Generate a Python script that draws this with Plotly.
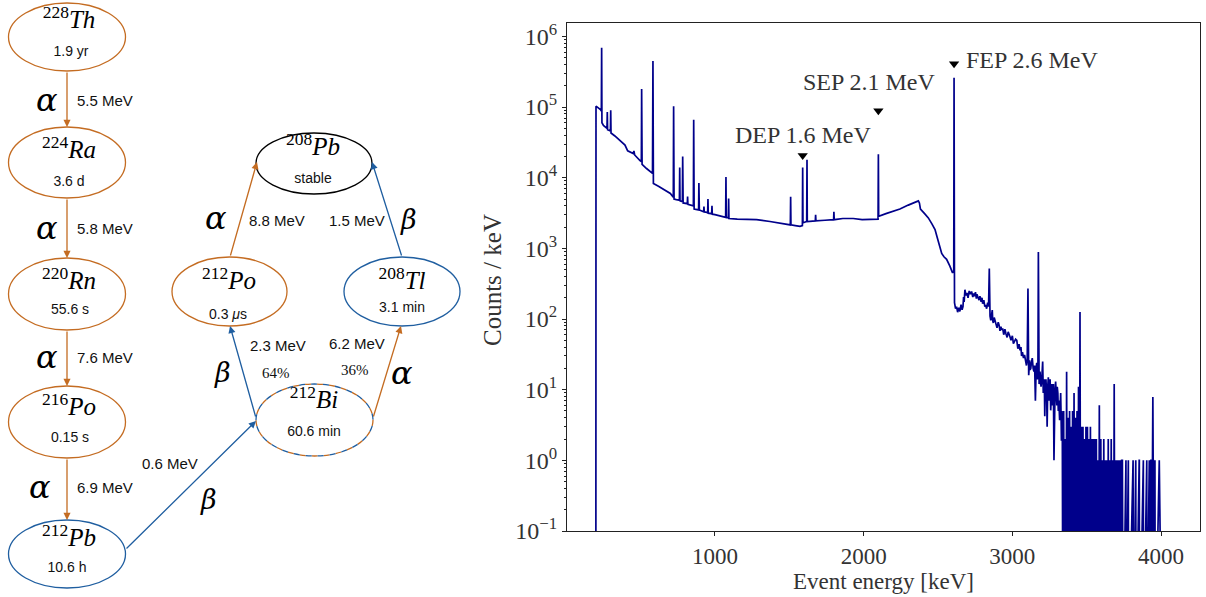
import math
import plotly.graph_objects as go

# ---------------- decay chain data ----------------
nuclide_mass = ["228", "224", "220", "216", "212", "208", "212", "208", "212"]
nuclide_symbol = ["Th", "Ra", "Rn", "Po", "Pb", "Pb", "Po", "Tl", "Bi"]
half_life = ["1.9 yr", "3.6 d", "55.6 s", "0.15 s", "10.6 h", "stable",
             "0.3 <i>μ</i>s", "3.1 min", "60.6 min"]
nuclide_kind = ["alpha", "alpha", "alpha", "alpha", "beta", "stable", "alpha", "beta", "both"]

decay_from = [0, 1, 2, 3, 4, 8, 8, 6, 7]
decay_to = [1, 2, 3, 4, 8, 6, 7, 5, 5]
decay_mode = ["α", "α", "α", "α", "β", "β", "α", "α", "β"]
decay_energy = ["5.5 MeV", "5.8 MeV", "7.6 MeV", "6.9 MeV", "0.6 MeV",
                "2.3 MeV", "6.2 MeV", "8.8 MeV", "1.5 MeV"]
decay_branch = ["", "", "", "", "", "64%", "36%", "", ""]

# ---------------- spectrum data (counts / keV) ----------------
energy_main = [180, 199, 200, 215, 230, 236, 238, 240, 250, 265, 274, 276, 278, 297, 299, 301,
               327, 360, 395, 413, 450, 455, 460, 496, 505, 507, 510, 540, 574, 580, 583, 586,
               620, 664, 700, 713, 720, 722, 725, 740, 761, 763, 765, 781, 783, 786, 814, 816,
               818, 855, 857, 860, 890, 892, 895, 924, 926, 928, 951, 953, 955, 978, 980, 982,
               1000, 1034, 1072, 1074, 1076, 1090, 1092, 1094, 1150, 1200, 1280, 1370, 1430,
               1482, 1507, 1509, 1511, 1540, 1572, 1588, 1590, 1592, 1617, 1619, 1621, 1675,
               1677, 1679, 1740, 1798, 1800, 1802, 1860, 1930, 1990, 2050, 2097, 2099, 2101,
               2150, 2200, 2244, 2300, 2340, 2368, 2375, 2382, 2410, 2435, 2460, 2480, 2500,
               2525, 2540, 2558, 2580, 2598, 2606, 2608, 2611, 2618, 2625, 2632, 2640, 2647,
               2655, 2662, 2668, 2672, 2676, 2681, 2688, 2695, 2702, 2710, 2718, 2726, 2734,
               2740, 2745, 2752, 2758, 2762, 2770, 2776, 2782, 2790, 2796, 2800, 2808, 2815,
               2821, 2827, 2834, 2840, 2845, 2847, 2850, 2855, 2861, 2865, 2868, 2872, 2878,
               2884, 2890, 2897, 2905, 2911, 2917, 2923, 2929, 2935, 2942, 2950, 2957, 2965,
               2972, 2978, 2984, 2991, 3000, 3007, 3015, 3022, 3030, 3037, 3045, 3052, 3058,
               3062, 3068, 3075, 3082, 3090, 3095, 3100, 3105, 3110, 3114, 3116, 3119, 3124,
               3128, 3134, 3140, 3145, 3150, 3155, 3160, 3164, 3168, 3172, 3175, 3180, 3186,
               3190, 3193, 3197, 3200, 3204, 3208, 3211, 3215, 3218, 3222, 3226, 3231, 3234,
               3238, 3242, 3246, 3250, 3254, 3258, 3262, 3265, 3269, 3272, 3276, 3280, 3284,
               3287, 3291, 3295, 3299, 3302, 3306, 3309, 3313, 3318, 3322, 3325, 3328, 3330,
               3333, 3336, 3340]
counts_main = [0, 0, 1.03e5, 9.8e4, 9.2e4, 8.8e4, 6.9e5, 6.0e4, 5.5e4, 5.2e4, 5.0e4, 8.5e4,
               4.8e4, 4.6e4, 9.0e4, 4.3e4, 3.9e4, 3.4e4, 2.9e4, 2.4e4, 2.2e4, 2.4e4, 2.1e4,
               1.75e4, 1.7e4, 1.8e5, 1.55e4, 1.35e4, 1.2e4, 1.15e4, 4.5e5, 8.3e3, 7.6e3,
               6.6e3, 6.0e3, 5.5e3, 5.3e3, 1.03e5, 5.0e3, 4.9e3, 4.8e3, 1.4e4, 4.7e3, 4.6e3,
               2.0e4, 4.4e3, 4.3e3, 5.4e3, 4.2e3, 4.0e3, 6.6e4, 3.6e3, 3.5e3, 8.4e3, 3.5e3,
               3.3e3, 3.9e3, 3.3e3, 3.2e3, 5.0e3, 3.15e3, 3.1e3, 4.0e3, 3.05e3, 3.0e3, 2.85e3,
               2.75e3, 1.02e4, 2.75e3, 2.7e3, 5.1e3, 2.65e3, 2.6e3, 2.6e3, 2.55e3, 2.4e3,
               2.3e3, 2.2e3, 2.15e3, 5.4e3, 2.15e3, 2.1e3, 2.05e3, 2.1e3, 1.4e4, 2.3e3, 2.4e3,
               1.8e4, 2.4e3, 2.45e3, 3.0e3, 2.45e3, 2.5e3, 2.55e3, 3.3e3, 2.55e3, 2.65e3,
               2.65e3, 2.55e3, 2.55e3, 2.6e3, 2.15e4, 2.85e3, 3.1e3, 3.35e3, 3.6e3, 4.1e3,
               4.4e3, 4.7e3, 4.4e3, 3.6e3, 3.1e3, 2.7e3, 2.2e3, 1.85e3, 1.3e3, 850, 760, 700,
               560, 450, 480, 2.6e5, 170, 140, 150, 125, 145, 128, 160, 135, 150, 205, 175,
               260, 215, 235, 200, 250, 225, 245, 205, 230, 210, 240, 195, 225, 200, 185, 210,
               175, 200, 165, 185, 150, 158, 140, 170, 150, 520, 130, 110, 96, 115, 134, 95,
               88, 105, 92, 80, 75, 90, 82, 68, 78, 70, 74, 60, 72, 62, 55, 66, 58, 56, 50, 58,
               45, 48, 52, 50, 38, 44, 36, 40, 30, 34, 28, 31, 24, 22, 26, 270, 16, 22, 26, 19,
               20, 24, 28, 20, 18, 22, 7, 20, 24, 14, 17, 890, 12, 18, 15, 11, 13, 19, 25, 9,
               10, 14, 4.2, 12, 14, 8, 3.0, 11, 15, 7, 11, 14, 5.1, 9, 12, 6, 8, 12, 1.0, 7, 10,
               13, 8, 6, 11, 9, 5, 7, 3.7, 6, 9, 4, 1.9, 5]

energy_dense = [3345, 3350, 3355, 3360, 3365, 3370, 3375, 3380, 3385, 3390, 3395, 3400,
                3405, 3410, 3415, 3420, 3425, 3430, 3435, 3440, 3445, 3450, 3455, 3460,
                3465, 3470, 3475, 3480, 3485, 3490, 3495, 3500, 3505, 3510, 3515, 3520,
                3525, 3530, 3535, 3540, 3545, 3550, 3555, 3560, 3565, 3570, 3575, 3580,
                3585, 3590, 3595, 3600, 3605, 3610, 3615, 3620, 3625, 3630, 3635, 3640,
                3645, 3650, 3655, 3660, 3665, 3670, 3675, 3680, 3685, 3690, 3695, 3700,
                3705, 3710, 3715, 3720, 3725, 3730, 3735, 3740]
counts_dense = [3, 0, 5, 0, 2, 0, 18, 0, 4, 0, 5, 0, 3, 0, 5, 0, 9, 0, 4, 0, 5, 0, 11, 0,
                126, 0, 3, 0, 3, 0, 2, 0, 3, 0, 3, 0, 2, 0, 3, 0, 2, 0, 2, 0, 2, 0, 2, 0,
                1, 0, 6, 0, 2, 0, 1, 0, 2, 0, 1, 0, 1, 0, 2, 0, 1, 0, 2, 0, 1, 0, 12, 0,
                1, 0, 1, 0, 1, 0, 1, 0]

energy_tail = [3745, 3763, 3764, 3765, 3779, 3780, 3781, 3812, 3813, 3814, 3830, 3831, 3832,
               3853, 3854, 3855, 3880, 3881, 3882, 3903, 3904, 3905, 3920, 3921, 3922, 3932,
               3933, 3934, 3943, 3944, 3945, 3947, 3948, 3949, 3952, 3953, 3954, 3959, 3960,
               3961, 3988, 3989, 3990, 4005, 4006, 4075]
counts_tail = [1, 1, 0, 1, 1, 0, 1, 1, 0, 1, 1, 0, 1, 1, 0, 1, 1, 0, 1, 1, 0, 1, 1, 0, 1, 1,
               0, 1, 1, 0, 1, 1, 7.9, 1, 1, 0, 1, 1, 0, 1, 1, 0, 1, 1, 0, 0]

marker_energy = [1590, 2099, 2608]
marker_counts = [2.07e4, 8.9e4, 4.1e5]
marker_label = ["DEP 1.6 MeV", "SEP 2.1 MeV", "FEP 2.6 MeV"]

x_tick_vals = [1000, 2000, 3000, 4000]
y_tick_vals = [0.1, 1, 10, 100, 1000, 1e4, 1e5, 1e6]
y_tick_text = ["10<sup>−1</sup>", "10<sup>0</sup>", "10<sup>1</sup>", "10<sup>2</sup>",
               "10<sup>3</sup>", "10<sup>4</sup>", "10<sup>5</sup>", "10<sup>6</sup>"]

# ---------------- styling / layout (diagram in pixel units) ----------------
ORANGE = "#c46c22"
BLUE = "#1f5ea0"
NAVY = "#00008b"
SERIF = "Liberation Serif"
SANS = "Liberation Sans"

node_geom = [  # cx, cy, rx, ry
    (67, 37, 58.5, 34), (67, 162.5, 58.5, 35.5), (67, 294, 58.5, 36), (67, 422, 58.5, 36),
    (67, 554, 58.5, 34), (314, 163.5, 58, 30.5), (229.5, 291.5, 57.5, 34.5),
    (402, 291.5, 58, 34.5), (314.5, 420, 58.5, 36)]
label_pos = [(69, 22), (69, 152), (69, 283), (69, 409), (69, 540), (313, 149), (229, 283),
             (402, 283), (314, 402)]
hl_pos = [(71, 52), (69, 182), (70, 310), (70, 438), (67, 568), (313, 179), (228, 315),
          (402, 308), (314, 432)]
arrow_geom = [  # tail x, tail y, head x, head y
    (67, 71, 67, 127), (67, 198, 67, 258), (67, 330, 67, 386), (67, 458, 67, 520),
    (125, 550, 256, 421), (256, 418, 230, 326), (373, 418, 401, 326),
    (230, 257, 257, 162), (402, 257, 372, 162)]
mode_pos = [(47, 100), (47, 228), (47, 357), (40, 487), (208, 499), (222, 372), (402, 373),
            (216, 218), (408, 219)]
energy_pos = [(105, 100), (105, 228), (105, 357), (105, 487), (170, 463), (278, 345),
              (357, 343), (277, 220), (357, 220)]
branch_pos = [None, None, None, None, None, (276, 373), (355, 370), None, None]

fig = go.Figure()

# spectrum
energy = energy_main + energy_dense + energy_tail
counts = counts_main + counts_dense + counts_tail
counts_plot = [c if c > 0 else 1e-3 for c in counts]  # clip non-positive like a log plot
fig.add_trace(go.Scatter(x=energy, y=counts_plot, mode="lines",
                         line=dict(color=NAVY, width=1.7), showlegend=False,
                         hoverinfo="skip", xaxis="x", yaxis="y"))
fig.add_trace(go.Scatter(x=marker_energy, y=marker_counts, mode="markers",
                         marker=dict(symbol="triangle-down", size=9, color="black"),
                         showlegend=False, hoverinfo="skip", xaxis="x", yaxis="y"))

# diagram node labels
fig.add_trace(go.Scatter(
    x=[p[0] for p in label_pos], y=[p[1] for p in label_pos], mode="text",
    text=[f"<sup>{m}</sup><i>{s}</i>" for m, s in zip(nuclide_mass, nuclide_symbol)],
    textfont=dict(family=SERIF, size=25, color="black"), textposition="middle center",
    showlegend=False, hoverinfo="skip", xaxis="x2", yaxis="y2"))
fig.add_trace(go.Scatter(
    x=[p[0] for p in hl_pos], y=[p[1] for p in hl_pos], mode="text", text=half_life,
    textfont=dict(family=SANS, size=14, color="#111"), textposition="middle center",
    showlegend=False, hoverinfo="skip", xaxis="x2", yaxis="y2"))

shapes = []
for kind, (cx, cy, rx, ry) in zip(nuclide_kind, node_geom):
    box = dict(type="circle", xref="x2", yref="y2", x0=cx - rx, x1=cx + rx,
               y0=cy - ry, y1=cy + ry, fillcolor="rgba(0,0,0,0)")
    if kind == "both":
        shapes.append(dict(box, line=dict(color=ORANGE, width=1.3, dash="6px,6px")))
        shapes.append(dict(box, line=dict(color=BLUE, width=1.3, dash="0px,6px,6px,0px")))
    else:
        col = {"alpha": ORANGE, "beta": BLUE, "stable": "black"}[kind]
        shapes.append(dict(box, line=dict(color=col, width=1.3)))

annotations = []
for i, mode in enumerate(decay_mode):
    col = ORANGE if mode == "α" else BLUE
    tx, ty, hx, hy = arrow_geom[i]
    annotations.append(dict(x=hx, y=hy, ax=tx, ay=ty, xref="x2", yref="y2", axref="x2",
                            ayref="y2", text="", showarrow=True, arrowhead=2, arrowsize=1.1,
                            arrowwidth=1.3, arrowcolor=col, standoff=0, startstandoff=0))
    mx, my = mode_pos[i]
    annotations.append(dict(x=mx, y=my, xref="x2", yref="y2", showarrow=False,
                            text=f"<i>{mode}</i>",
                            font=dict(family="DejaVu Serif", size=32 if mode == "α" else 27,
                                      color="black")))
    ex, ey = energy_pos[i]
    annotations.append(dict(x=ex, y=ey, xref="x2", yref="y2", showarrow=False,
                            text=decay_energy[i],
                            font=dict(family=SANS, size=15, color="#111")))
    if decay_branch[i]:
        bx, by = branch_pos[i]
        annotations.append(dict(x=bx, y=by, xref="x2", yref="y2", showarrow=False,
                                text=decay_branch[i],
                                font=dict(family=SERIF, size=15, color="#111")))

# peak labels (data coords, offsets in layout)
label_offsets = [(0, 20, "center"), (-9, 29, "center"), (10, 4, "left")]
for e, c, lab, (dx, dy, al) in zip(marker_energy, marker_counts, marker_label, label_offsets):
    annotations.append(dict(x=e, y=math.log10(c), xref="x", yref="y", text=lab,
                            showarrow=False, xanchor=al, yanchor="middle",
                            xshift=dx, yshift=dy,
                            font=dict(family=SERIF, size=24, color="#333")))

# axis titles
annotations.append(dict(x=883 / 1206, y=1 - 581 / 597, xref="paper", yref="paper",
                        xanchor="center", yanchor="middle",
                        text="Event energy [keV]", showarrow=False,
                        font=dict(family=SERIF, size=23, color="#333")))
annotations.append(dict(x=492 / 1206, y=1 - 280 / 597, xref="paper", yref="paper",
                        xanchor="center", yanchor="middle",
                        text="Counts / keV", showarrow=False, textangle=-90,
                        font=dict(family=SERIF, size=25, color="#333")))

minor_vals = []
for d in range(-1, 6):
    for k in range(2, 10):
        minor_vals.append(k * 10 ** d)

fig.update_layout(
    width=1206, height=597, margin=dict(l=0, r=0, t=0, b=0, autoexpand=False),
    paper_bgcolor="white", plot_bgcolor="white",
    shapes=shapes, annotations=annotations,
    xaxis=dict(domain=[567 / 1206, 1200 / 1206], range=[5, 4262], anchor="y",
               automargin=False,
               showline=True, linecolor="#222", linewidth=1, mirror=True,
               ticks="outside", ticklen=4, tickcolor="#222", tickvals=x_tick_vals,
               tickfont=dict(family=SERIF, size=23, color="#333"),
               showgrid=False, zeroline=False),
    yaxis=dict(domain=[1 - 531 / 597, 1 - 23 / 597], type="log", range=[-1, 6.19],
               anchor="x", automargin=False,
               showline=True, linecolor="#222", linewidth=1, mirror=True,
               ticks="outside", ticklen=4, tickcolor="#222",
               tickvals=y_tick_vals, ticktext=y_tick_text,
               tickfont=dict(family=SERIF, size=24, color="#333"),
               minor=dict(tickmode="array", tickvals=minor_vals, ticks="outside",
                          ticklen=2.5, tickcolor="#222", showgrid=False),
               showgrid=False, zeroline=False),
    xaxis2=dict(domain=[0, 470 / 1206], range=[0, 470], anchor="y2", visible=False,
                automargin=False),
    yaxis2=dict(domain=[0, 1], range=[597, 0], anchor="x2", visible=False,
                automargin=False),
)

fig.write_html("out.html")
